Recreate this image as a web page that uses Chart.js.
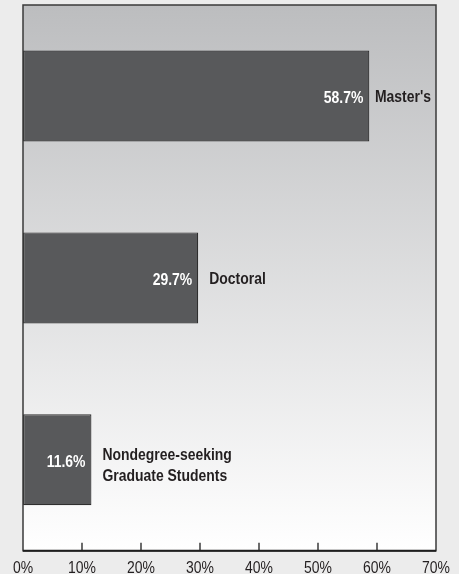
<!DOCTYPE html>
<html>
<head>
<meta charset="utf-8">
<script src="https://cdn.jsdelivr.net/npm/chart.js@4/dist/chart.umd.min.js"></script>
<style>
  html, body { margin: 0; padding: 0; background: #ececec; }
  #wrap { width: 459px; height: 574px; }
</style>
</head>
<body>
<div id="wrap"><canvas id="chart" width="459" height="574"></canvas></div>
<script>
const categories = ['Master\'s', 'Doctoral', ['Nondegree-seeking', 'Graduate Students']]
const shares = [58.7, 29.7, 11.6]
const tickValues = [0, 10, 20, 30, 40, 50, 60, 70]

const FONT = "'Liberation Sans', Arial, sans-serif"
const NARROW = 0.82

// condensed text: squeeze a normal face horizontally
function narrowText (ctx, text, x, y, align) {
  ctx.save()
  ctx.translate(x, y)
  ctx.scale(NARROW, 1)
  ctx.textAlign = align
  ctx.fillText(text, 0, 0)
  ctx.restore()
}

// gradient panel + frame + inward tick marks + tick labels
const panel = {
  id: 'panel',
  beforeDatasetsDraw (chart) {
    const { ctx, chartArea: a } = chart
    const g = ctx.createLinearGradient(0, a.top, 0, a.bottom)
    g.addColorStop(0, '#bcbdbf')
    g.addColorStop(1, '#ffffff')
    ctx.save()
    ctx.fillStyle = g
    ctx.fillRect(a.left, a.top, a.right - a.left, a.bottom - a.top)
    ctx.restore()
  },
  afterDatasetsDraw (chart) {
    const { ctx, chartArea: a, scales } = chart
    ctx.save()
    ctx.strokeStyle = '#3a3a3a'
    ctx.lineWidth = 1.5
    ctx.strokeRect(a.left, a.top, a.right - a.left, a.bottom - a.top)
    ctx.strokeStyle = '#1e1e1e'
    ctx.beginPath()
    ctx.moveTo(a.left, a.bottom)
    ctx.lineTo(a.right, a.bottom)
    ctx.lineWidth = 2
    ctx.stroke()
    ctx.beginPath()
    for (const v of tickValues.slice(1, -1)) {
      const x = scales.x.getPixelForValue(v)
      ctx.moveTo(x, a.bottom)
      ctx.lineTo(x, a.bottom - 8)
    }
    ctx.lineWidth = 1.3
    ctx.stroke()

    ctx.fillStyle = '#231f20'
    ctx.font = '17px ' + FONT
    ctx.textBaseline = 'alphabetic'
    for (const v of tickValues) {
      narrowText(ctx, v + '%', scales.x.getPixelForValue(v), 573, 'center')
    }
    ctx.restore()
  }
}

const barLabels = {
  id: 'barLabels',
  afterDatasetsDraw (chart) {
    const { ctx, chartArea: a } = chart
    const meta = chart.getDatasetMeta(0)
    ctx.save()
    ctx.font = 'bold 17px ' + FONT
    ctx.textBaseline = 'middle'
    meta.data.forEach((bar, i) => {
      ctx.fillStyle = '#ffffff'
      narrowText(ctx, shares[i].toFixed(1) + '%', bar.x - 6, bar.y + 2, 'right')
      ctx.fillStyle = '#231f20'
      const lines = Array.isArray(categories[i]) ? categories[i] : [categories[i]]
      const widest = Math.max(...lines.map(l => ctx.measureText(l).width * NARROW))
      const x = Math.min(bar.x + 11, a.right - 5 - widest)
      const lh = 21
      const y0 = lines.length > 1 ? bar.y + 6 - (lines.length - 1) * lh / 2 : bar.y + 1
      lines.forEach((line, j) => narrowText(ctx, line, x, y0 + j * lh, 'left'))
    })
    ctx.restore()
  }
}

new Chart(document.getElementById('chart'), {
  type: 'bar',
  data: {
    labels: categories,
    datasets: [{
      data: shares,
      backgroundColor: '#58595b',
      borderColor: '#2e2e2e',
      borderWidth: 1.2,
      borderSkipped: false,
      barPercentage: 0.5,
      categoryPercentage: 1
    }]
  },
  options: {
    indexAxis: 'y',
    responsive: false,
    animation: false,
    layout: { padding: { left: 23, right: 23, top: 5, bottom: 4 } },
    plugins: {
      legend: { display: false },
      tooltip: { enabled: false }
    },
    scales: {
      x: {
        min: 0,
        max: 70,
        afterBuildTicks: (scale) => { scale.ticks = tickValues.map(v => ({ value: v })) },
        grid: { display: false, drawTicks: false },
        border: { display: false },
        ticks: {
          padding: 0,
          color: 'rgba(0,0,0,0)',
          font: { family: FONT, size: 16 },
          maxRotation: 0,
          callback: (v) => v + '%'
        }
      },
      y: {
        display: false,
        grid: { display: false }
      }
    }
  },
  plugins: [panel, barLabels]
})
</script>
</body>
</html>
